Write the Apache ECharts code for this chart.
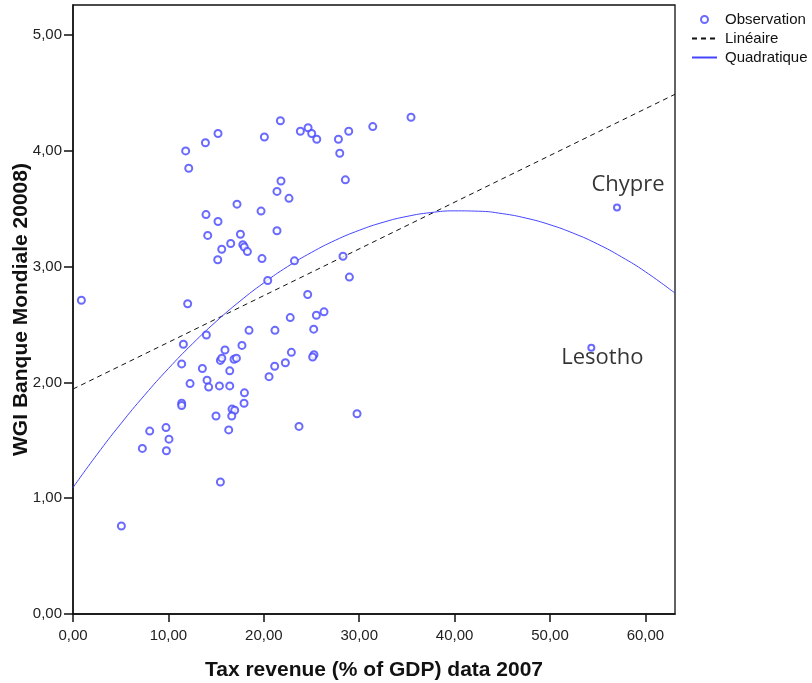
<!DOCTYPE html>
<html>
<head>
<meta charset="utf-8">
<script src="https://cdn.jsdelivr.net/npm/echarts@6/dist/echarts.min.js"></script>
<style>
  html, body { margin: 0; padding: 0; background: #fff; }
  #chart { width: 812px; height: 683px; }
</style>
</head>
<body>
<div id="chart"></div>
<script>
// Tax revenue (% of GDP, 2007) and WGI score (2008) per country
const taxRevenue = [
  11.81, 12.13, 13.88, 15.20, 20.06, 21.74, 23.83, 24.64, 25.02, 25.55,
  27.82, 28.90, 31.42, 35.43, 27.96, 28.55, 21.80, 21.38, 22.64, 17.19,
  19.71, 13.94, 15.20, 14.12, 17.55, 21.38, 16.53, 17.80, 17.95, 15.59,
  18.28, 15.17, 19.81, 23.21, 28.30, 28.97, 20.41, 0.88, 12.02, 24.60,
  22.77, 25.51, 26.31, 25.23, 13.98, 11.57, 18.45, 21.17, 15.93, 17.71,
  22.89, 15.45, 15.60, 16.88, 17.13, 11.39, 13.56, 16.43, 21.14, 22.26,
  25.26, 25.12, 20.55, 14.05, 12.27, 14.22, 15.35, 16.43, 17.97, 11.39,
  11.39, 17.93, 16.67, 16.95, 16.64, 14.99, 8.04, 9.75, 10.06, 16.32,
  7.27, 9.79, 23.69, 15.45, 5.07, 29.77
];
const wgiScore = [
  4.00, 3.85, 4.07, 4.15, 4.12, 4.26, 4.17, 4.20, 4.15, 4.10,
  4.10, 4.17, 4.21, 4.29, 3.98, 3.75, 3.74, 3.65, 3.59, 3.54,
  3.48, 3.45, 3.39, 3.27, 3.28, 3.31, 3.20, 3.19, 3.17, 3.15,
  3.13, 3.06, 3.07, 3.05, 3.09, 2.91, 2.88, 2.71, 2.68, 2.76,
  2.56, 2.58, 2.61, 2.46, 2.41, 2.33, 2.45, 2.45, 2.28, 2.32,
  2.26, 2.19, 2.21, 2.20, 2.21, 2.16, 2.12, 2.10, 2.14, 2.17,
  2.24, 2.22, 2.05, 2.02, 1.99, 1.96, 1.97, 1.97, 1.91, 1.82,
  1.80, 1.82, 1.77, 1.76, 1.71, 1.71, 1.58, 1.61, 1.51, 1.59,
  1.43, 1.41, 1.62, 1.14, 0.76, 1.73
];

// Named outliers
const outlierNames = ['Chypre', 'Lesotho'];
const outlierTax = [57.02, 54.33];
const outlierWgi = [3.51, 2.30];

// Linear fit (end points)
const linearX = [0, 63.1];
const linearY = [1.943, 4.489];

// Quadratic fit samples
const quadX = [0, 2.5, 5, 7.5, 10, 12.5, 15, 17.5, 20, 22.5, 25, 27.5, 30, 32.5,
  35, 37.5, 40, 42.5, 45, 47.5, 50, 52.5, 55, 57.5, 60, 63.1];
const quadY = [1.092, 1.376, 1.642, 1.890, 2.120, 2.332, 2.526, 2.702, 2.860, 3.001,
  3.123, 3.228, 3.314, 3.383, 3.434, 3.467, 3.482, 3.479, 3.458, 3.419,
  3.362, 3.287, 3.195, 3.084, 2.956, 2.771];

// Axis ticks
const xTicks = [0, 10, 20, 30, 40, 50, 60];
const yTicks = [0, 1, 2, 3, 4, 5];

const fmt = v => v.toFixed(2).replace('.', ',');
const BLUE = '#4545ff';
const AXIS_FONT = '"Liberation Sans", Arial, sans-serif';
const HIDDEN = 'rgba(0,0,0,0)';

const observations = taxRevenue.map((x, i) => [x, wgiScore[i]]);
const labelOffsets = { 'Chypre': [11, -23], 'Lesotho': [11, 10] };
outlierNames.forEach((name, i) => {
  observations.push({
    value: [outlierTax[i], outlierWgi[i]],
    symbolSize: 6,
    itemStyle: { borderWidth: 1.1 },
    label: {
      show: true,
      formatter: name,
      position: 'inside',
      offset: labelOffsets[name],
      fontFamily: '"Open Sans", sans-serif',
      fontSize: 22,
      color: '#000'
    }
  });
});

const chart = echarts.init(document.getElementById('chart'), null, { renderer: 'canvas' });

chart.setOption({
  backgroundColor: '#fff',
  animation: false,
  grid: {
    left: 73, top: 5, width: 602, height: 609,
    containLabel: false,
    outerBoundsMode: 'none',
    show: true, borderColor: '#111', borderWidth: 1.3, backgroundColor: 'transparent'
  },
  legend: {
    orient: 'vertical',
    left: 686, top: 7,
    itemWidth: 25, itemHeight: 7, itemGap: 4,
    textStyle: { fontFamily: AXIS_FONT, fontSize: 15, color: '#111', padding: [0, 0, 0, 3] },
    data: [
      { name: 'Observation', icon: 'emptyCircle' },
      { name: 'Linéaire', itemStyle: { color: HIDDEN, borderColor: HIDDEN, borderWidth: 0 } },
      { name: 'Quadratique', itemStyle: { color: HIDDEN, borderColor: HIDDEN, borderWidth: 0 } }
    ]
  },
  xAxis: {
    type: 'value',
    min: 0, max: 63.1, interval: 10,
    name: 'Tax revenue (% of GDP) data 2007',
    nameLocation: 'middle', nameGap: 46,
    nameTextStyle: { fontFamily: AXIS_FONT, fontWeight: 'bold', fontSize: 21, color: '#111' },
    axisLine: { show: true, onZero: false, lineStyle: { color: '#111', width: 1.5 } },
    axisTick: { show: true, length: 8, lineStyle: { color: '#111', width: 1.5 },
      customValues: xTicks },
    axisLabel: { fontFamily: AXIS_FONT, fontSize: 15, color: '#222', margin: 14,
      formatter: fmt, customValues: xTicks },
    splitLine: { show: false }
  },
  yAxis: {
    type: 'value',
    min: 0, max: 5.26, interval: 1,
    name: 'WGI Banque Mondiale 20008)',
    nameLocation: 'middle', nameGap: 41, nameRotate: 90,
    nameMoveOverlap: false,
    nameTextStyle: { fontFamily: AXIS_FONT, fontWeight: 'bold', fontSize: 21, color: '#111' },
    axisLine: { show: true, onZero: false, lineStyle: { color: '#111', width: 1.5 } },
    axisTick: { show: true, length: 9, lineStyle: { color: '#111', width: 1.5 },
      customValues: yTicks },
    axisLabel: { fontFamily: AXIS_FONT, fontSize: 15, color: '#222', margin: 11,
      formatter: fmt, customValues: yTicks },
    splitLine: { show: false }
  },
  series: [
    {
      name: 'Linéaire',
      type: 'line',
      data: linearX.map((x, i) => [x, linearY[i]]),
      symbol: 'none',
      lineStyle: { color: '#111', width: 1, type: [5, 4] },
      itemStyle: { color: '#111' },
      z: 2
    },
    {
      name: 'Quadratique',
      type: 'line',
      data: quadX.map((x, i) => [x, quadY[i]]),
      smooth: true,
      symbol: 'none',
      lineStyle: { color: BLUE, width: 1 },
      itemStyle: { color: BLUE },
      z: 2
    },
    {
      name: 'Observation',
      type: 'scatter',
      data: observations,
      symbol: 'emptyCircle',
      symbolSize: 7,
      itemStyle: { color: BLUE, borderColor: BLUE, borderWidth: 1.5 },
      z: 3
    }
  ]
});
</script>
</body>
</html>
